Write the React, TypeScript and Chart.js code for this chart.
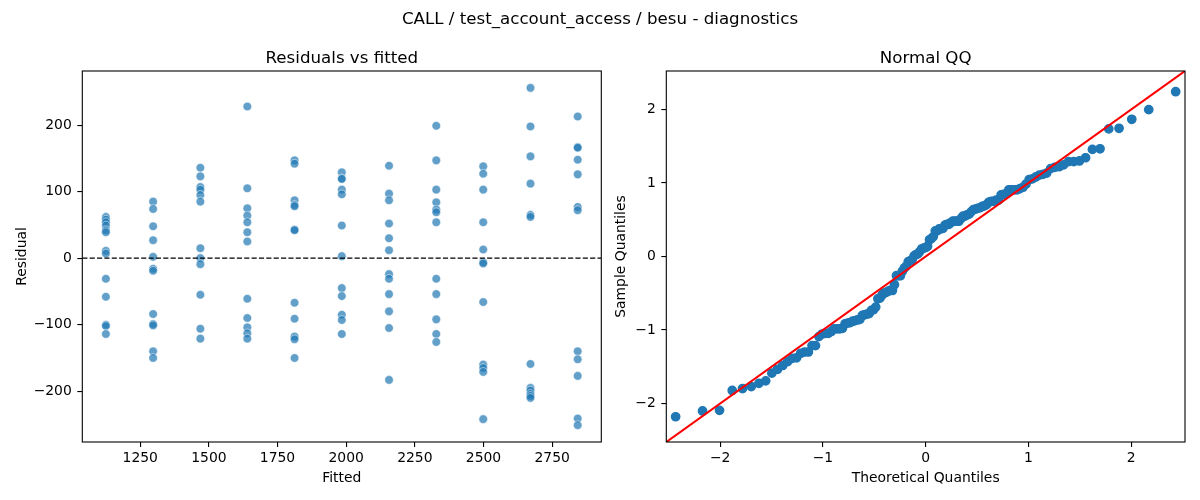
import React, { useEffect, useRef } from "react";
import { Chart, registerables } from "chart.js";

Chart.register(...registerables);

// ---- data ----
const FITTED = [1125, 1297, 1469, 1640, 1812, 1984, 2156, 2328, 2499, 2671, 2843];

const RES_1125 = [62, 58, 54, 49, 42, 39, 11, 7, -31, -58, -100, -102, -114];
const RES_1297 = [85, 74, 48, 27, 2, -16, -19, -84, -99, -101, -140, -150];
const RES_1469 = [136, 123, 107, 103, 95, 85, 15, 0, -9, -55, -106, -121];
const RES_1640 = [228, 105, 75, 64, 54, 39, 25, -61, -90, -104, -113, -121];
const RES_1812 = [147, 142, 87, 80, 78, 43, 42, -67, -91, -118, -122, -150];
const RES_1984 = [129, 120, 119, 103, 96, 49, 3, -45, -57, -85, -93, -114];
const RES_2156 = [139, 97, 87, 52, 30, 12, -24, -31, -54, -80, -105, -183];
const RES_2328 = [199, 147, 103, 84, 73, 69, 54, -31, -54, -92, -114, -126];
const RES_2499 = [138, 127, 103, 54, 13, -6, -8, -66, -160, -165, -171, -242];
const RES_2671 = [256, 198, 153, 112, 65, 62, -159, -195, -199, -204, -207, -210];
const RES_2843 = [213, 167, 166, 148, 126, 77, 72, -140, -152, -177, -241, -251];

const RESIDUAL_COLUMNS = [
  RES_1125, RES_1297, RES_1469, RES_1640, RES_1812, RES_1984,
  RES_2156, RES_2328, RES_2499, RES_2671, RES_2843,
];

const FIT_TICKS = [1250, 1500, 1750, 2000, 2250, 2500, 2750];
const RES_TICKS = [-200, -100, 0, 100, 200];
const QQ_TICKS = [-2, -1, 0, 1, 2];
const QQ_LIMIT = 2.525;

const SUPTITLE = "CALL / test_account_access / besu - diagnostics";
const LEFT_TITLE = "Residuals vs fitted";
const RIGHT_TITLE = "Normal QQ";

// ---- helpers ----
const FONT = "'DejaVu Sans', 'Liberation Sans', sans-serif";
const TICK_FONT = { family: FONT, size: 13.9, lineHeight: 1.2 };
const fmt = (v: number) => (v < 0 ? "\u2212" + Math.abs(v) : String(v));

function normInv(p: number): number {
  const a = [-3.969683028665376e1, 2.209460984245205e2, -2.759285104469687e2, 1.38357751867269e2, -3.066479806614716e1, 2.506628277459239];
  const b = [-5.447609879822406e1, 1.615858368580409e2, -1.556989798598866e2, 6.680131188771972e1, -1.328068155288572e1];
  const c = [-7.784894002430293e-3, -3.223964580411365e-1, -2.400758277161838, -2.549732539343734, 4.374664141464968, 2.938163982698783];
  const d = [7.784695709041462e-3, 3.224671290700398e-1, 2.445134137142996, 3.754408661907416];
  const plow = 0.02425;
  if (p < plow) {
    const q = Math.sqrt(-2 * Math.log(p));
    return (((((c[0] * q + c[1]) * q + c[2]) * q + c[3]) * q + c[4]) * q + c[5]) / ((((d[0] * q + d[1]) * q + d[2]) * q + d[3]) * q + 1);
  }
  if (p > 1 - plow) {
    const q = Math.sqrt(-2 * Math.log(1 - p));
    return -(((((c[0] * q + c[1]) * q + c[2]) * q + c[3]) * q + c[4]) * q + c[5]) / ((((d[0] * q + d[1]) * q + d[2]) * q + d[3]) * q + 1);
  }
  const q = p - 0.5;
  const r = q * q;
  return ((((((a[0] * r + a[1]) * r + a[2]) * r + a[3]) * r + a[4]) * r + a[5]) * q) / (((((b[0] * r + b[1]) * r + b[2]) * r + b[3]) * r + b[4]) * r + 1);
}

function axisBase(ticks: number[], min: number, max: number, titleText: string, isX: boolean, size: number, tickPad: number) {
  return {
    type: "linear",
    position: isX ? "bottom" : "left",
    min,
    max,
    afterBuildTicks: (s: any) => {
      s.ticks = ticks.map((v) => ({ value: v }));
    },
    afterFit: (s: any) => {
      if (isX) s.height = size;
      else s.width = size;
      s.paddingLeft = 0;
      s.paddingRight = 0;
      s.paddingTop = 0;
      s.paddingBottom = 0;
    },
    grid: {
      display: true,
      drawOnChartArea: false,
      drawTicks: true,
      tickLength: 5,
      color: "#000",
      lineWidth: 1.1,
    },
    border: { display: false },
    ticks: {
      color: "#000",
      font: TICK_FONT,
      padding: tickPad,
      autoSkip: false,
      maxRotation: 0,
      callback: (v: any) => fmt(Number(v)),
    },
    title: {
      display: true,
      text: titleText,
      color: "#000",
      font: { family: FONT, size: 13.9, lineHeight: 1.2 },
      padding: 0,
    },
  };
}

function framePlugin(title: string, sup?: string) {
  return {
    id: "mplFrame",
    afterDraw(chart: any) {
      const { ctx, chartArea } = chart;
      ctx.save();
      ctx.strokeStyle = "#000";
      ctx.lineWidth = 1.1;
      ctx.strokeRect(chartArea.left, chartArea.top, chartArea.right - chartArea.left, chartArea.bottom - chartArea.top);
      ctx.fillStyle = "#000";
      ctx.font = `16.67px ${FONT}`;
      ctx.textAlign = "center";
      ctx.textBaseline = "alphabetic";
      ctx.fillText(title, (chartArea.left + chartArea.right) / 2, chartArea.top - 8.4);
      if (sup) ctx.fillText(sup, chart.width / 2, 24);
      ctx.restore();
    },
  };
}

export default function App() {
  const leftRef = useRef<HTMLCanvasElement>(null);
  const rightRef = useRef<HTMLCanvasElement>(null);

  useEffect(() => {
    // residual scatter points
    const residPoints: { x: number; y: number }[] = [];
    RESIDUAL_COLUMNS.forEach((col, i) => col.forEach((r) => residPoints.push({ x: FITTED[i], y: r })));
    const allRes = residPoints.map((p) => p.y);

    const fMin = Math.min(...FITTED);
    const fMax = Math.max(...FITTED);
    const rMin = Math.min(...allRes);
    const rMax = Math.max(...allRes);
    const xMin = fMin - 0.05 * (fMax - fMin);
    const xMax = fMax + 0.05 * (fMax - fMin);
    const yMin = rMin - 0.05 * (rMax - rMin);
    const yMax = rMax + 0.05 * (rMax - rMin);

    // QQ points derived from the residuals (standardised, ddof = 0)
    const n = allRes.length;
    const mean = allRes.reduce((s, v) => s + v, 0) / n;
    const sd = Math.sqrt(allRes.reduce((s, v) => s + (v - mean) * (v - mean), 0) / n);
    const sorted = [...allRes].sort((a, b) => a - b);
    const qqPoints = sorted.map((v, i) => ({ x: normInv((i + 1) / (n + 1)), y: (v - mean) / sd }));

    const leftChart = new Chart(leftRef.current as HTMLCanvasElement, {
      type: "scatter",
      data: {
        datasets: [
          {
            data: [
              { x: xMin, y: 0 },
              { x: xMax, y: 0 },
            ],
            showLine: true,
            borderColor: "#000",
            borderWidth: 1.39,
            borderDash: [5.14, 2.22],
            pointRadius: 0,
          } as any,
          {
            data: residPoints,
            backgroundColor: "rgba(31,119,180,0.7)",
            borderColor: "rgba(255,255,255,0.7)",
            borderWidth: 0.7,
            pointRadius: 4.3,
          },
        ],
      },
      options: {
        animation: false,
        responsive: false,
        events: [],
        layout: { padding: { left: 14.2, right: 598.7, top: 71, bottom: 13.6 } },
        plugins: { legend: { display: false }, tooltip: { enabled: false } },
        scales: {
          x: axisBase(FIT_TICKS, xMin, xMax, "Fitted", true, 44.4, 3) as any,
          y: axisBase(RES_TICKS, yMin, yMax, "Residual", false, 68.1, 5.5) as any,
        },
      },
      plugins: [framePlugin(LEFT_TITLE, SUPTITLE)],
    });

    const rightChart = new Chart(rightRef.current as HTMLCanvasElement, {
      type: "scatter",
      data: {
        datasets: [
          {
            data: [
              { x: -QQ_LIMIT, y: -QQ_LIMIT },
              { x: QQ_LIMIT, y: QQ_LIMIT },
            ],
            showLine: true,
            borderColor: "#ff0000",
            borderWidth: 2.08,
            pointRadius: 0,
          } as any,
          {
            data: qqPoints,
            backgroundColor: "#1f77b4",
            borderColor: "#1f77b4",
            borderWidth: 1.39,
            pointRadius: 4.17,
          },
        ],
      },
      options: {
        animation: false,
        responsive: false,
        events: [],
        layout: { padding: { left: 613.2, right: 15, top: 71, bottom: 13.6 } },
        plugins: { legend: { display: false }, tooltip: { enabled: false } },
        scales: {
          x: axisBase(QQ_TICKS, -QQ_LIMIT, QQ_LIMIT, "Theoretical Quantiles", true, 44.4, 3) as any,
          y: axisBase(QQ_TICKS, -QQ_LIMIT, QQ_LIMIT, "Sample Quantiles", false, 53.1, 5.5) as any,
        },
      },
      plugins: [framePlugin(RIGHT_TITLE)],
    });

    return () => {
      leftChart.destroy();
      rightChart.destroy();
    };
  }, []);

  const canvasStyle: React.CSSProperties = { position: "absolute", left: 0, top: 0, width: 1200, height: 500 };
  return (
    <div style={{ position: "absolute", left: 0, top: 0, width: 1200, height: 500, background: "#fff" }}>
      <canvas ref={leftRef} width={1200} height={500} style={canvasStyle} />
      <canvas ref={rightRef} width={1200} height={500} style={canvasStyle} />
    </div>
  );
}
